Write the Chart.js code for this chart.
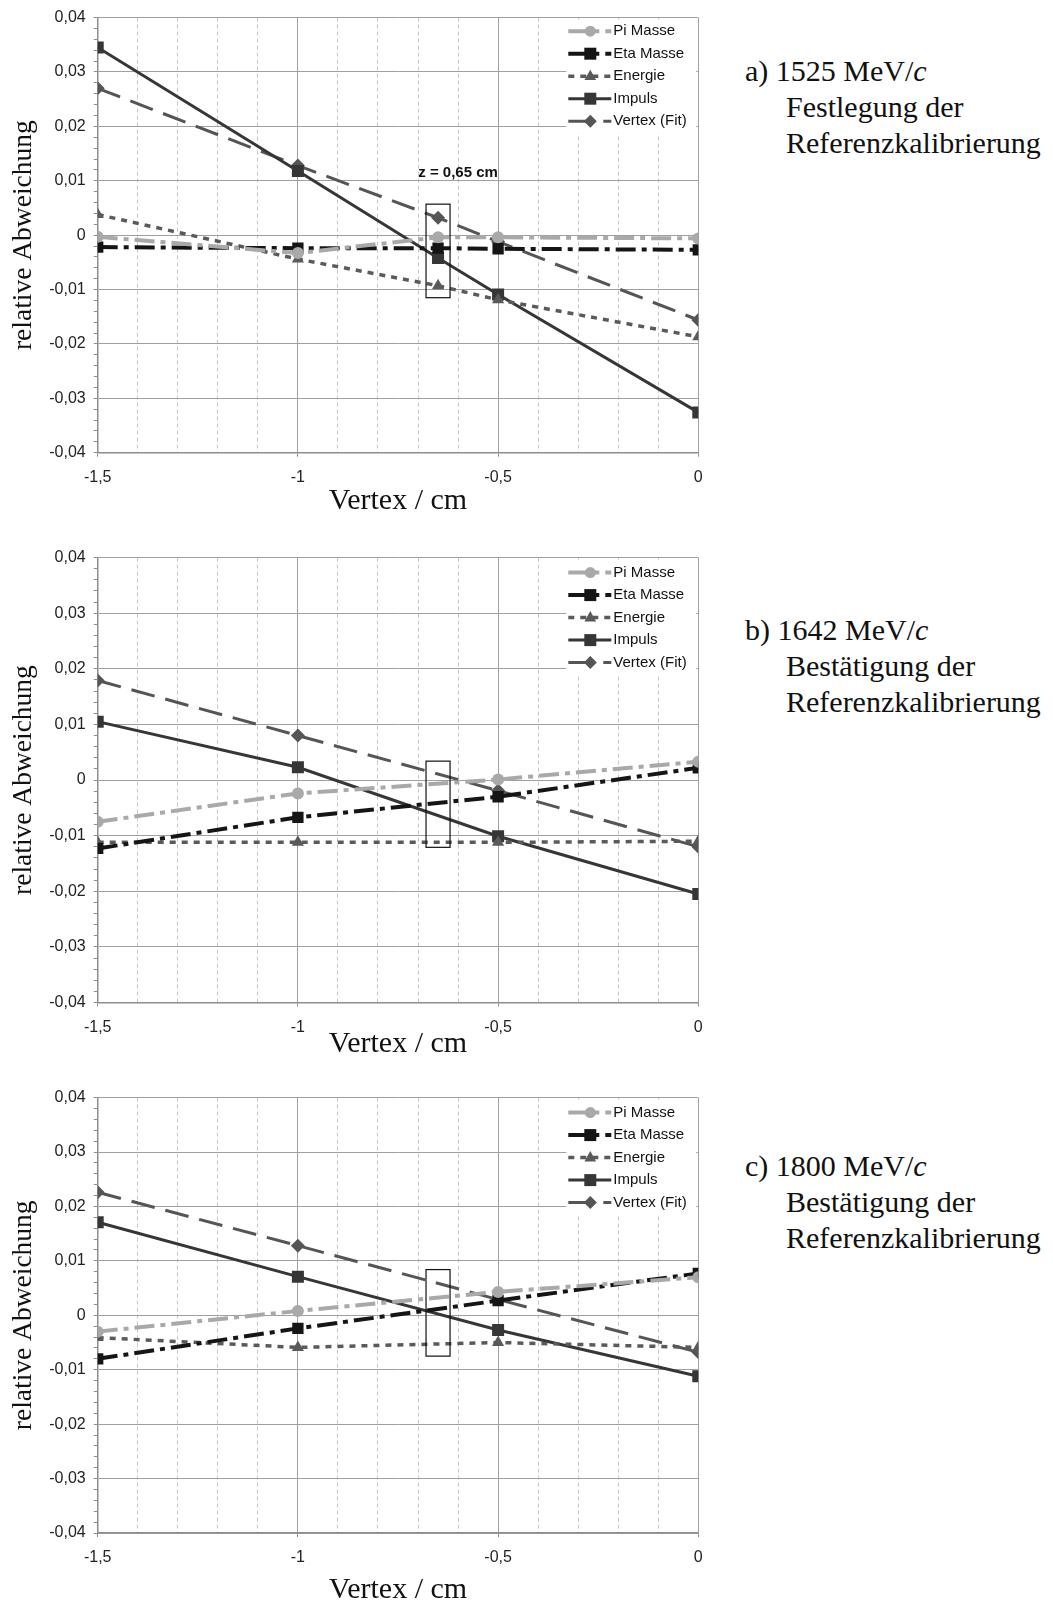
<!DOCTYPE html>
<html><head><meta charset="utf-8">
<script src="https://cdn.jsdelivr.net/npm/chart.js@4.4.1/dist/chart.umd.min.js"></script>
<style>
html,body{margin:0;padding:0;background:#fff;overflow:hidden;width:1053px;height:1602px}
canvas{position:absolute;left:0}
.cap{position:absolute;left:745px;font-family:"Liberation Serif",serif;font-size:30px;line-height:36px;color:#111;white-space:nowrap}
.cap .ind{padding-left:41px}
</style></head><body>
<canvas id="ca" width="720" height="520" style="top:0px"></canvas>
<canvas id="cb" width="720" height="520" style="top:540px"></canvas>
<canvas id="cc" width="720" height="522" style="top:1080px"></canvas>
<div class="cap" style="top:53px">a) 1525 MeV/<i>c</i><div class="ind">Festlegung der</div><div class="ind">Referenzkalibrierung</div></div>
<div class="cap" style="top:612px">b) 1642 MeV/<i>c</i><div class="ind">Bestätigung der</div><div class="ind">Referenzkalibrierung</div></div>
<div class="cap" style="top:1148px">c) 1800 MeV/<i>c</i><div class="ind">Bestätigung der</div><div class="ind">Referenzkalibrierung</div></div>
<script>
// ---- data ----
const SERIES = ['Pi Masse', 'Eta Masse', 'Energie', 'Impuls', 'Vertex (Fit)'];
const X_A = [-1.5, -1, -0.65, -0.5, 0];
const X_BC = [-1.5, -1, -0.5, 0];

const A_PI  = [-0.0003, -0.0033, -0.0004, -0.0004, -0.0006];
const A_ETA = [-0.0022, -0.0024, -0.0024, -0.0025, -0.0027];
const A_EN  = [0.0038, -0.0044, -0.0093, -0.0119, -0.0187];
const A_IMP = [0.0345, 0.0118, -0.0042, -0.0109, -0.0326];
const A_VTX = [0.0270, 0.0128, 0.0032, -0.0012, -0.0156];

const B_PI  = [-0.0075, -0.0024, 0.0001, 0.0033];
const B_ETA = [-0.0123, -0.0067, -0.0030, 0.0022];
const B_EN  = [-0.0112, -0.0112, -0.0112, -0.0110];
const B_IMP = [0.0105, 0.0023, -0.0101, -0.0205];
const B_VTX = [0.0179, 0.0080, -0.0019, -0.0120];

const C_PI  = [-0.0030, 0.0008, 0.0043, 0.0070];
const C_ETA = [-0.0080, -0.0024, 0.0027, 0.0077];
const C_EN  = [-0.0041, -0.0059, -0.0050, -0.0059];
const C_IMP = [0.0171, 0.0071, -0.0027, -0.0112];
const C_VTX = [0.0226, 0.0128, 0.0029, -0.0068];

const X_TICK_LABELS = ['-1,5', '-1', '-0,5', '0'];
const Y_TICK_LABELS = ['0,04', '0,03', '0,02', '0,01', '0', '-0,01', '-0,02', '-0,03', '-0,04'];
const BOX_A = [-0.68, -0.62, 0.0057, -0.0115];
const BOX_B = [-0.68, -0.62, 0.0034, -0.0121];
const BOX_C = [-0.68, -0.62, 0.0084, -0.0075];
const NOTE_A = {text: 'z = 0,65 cm', x: -0.6, y: 0.0114};

// ---- styles ----
const STYLE = [
  {color: '#a9a9a9', width: 4, dash: [20, 6, 5, 6], point: 'circle', r: 6, lr: 5.5},
  {color: '#151515', width: 4, dash: [20, 6, 5, 6], point: 'rect', r: 8, lr: 6},
  {color: '#5a5a5a', width: 3.5, dash: [6, 6], point: 'triangle', r: 7, lr: 6.5},
  {color: '#363636', width: 3, dash: [], point: 'rect', r: 8.5, lr: 6},
  {color: '#555555', width: 3, dash: [24, 11], point: 'rectRot', r: 7, lr: 6.5}
];

const near = (a, b) => Math.abs(a - b) < 1e-6;
function majorY(v) { return Math.abs(v * 100 - Math.round(v * 100)) < 1e-6; }
function majorX(v) { return Math.abs(v * 2 - Math.round(v * 2)) < 1e-6; }
function fmtY(v) {
  for (const s of Y_TICK_LABELS) { if (near(parseFloat(s.replace(',', '.')), v)) return s; }
  return '';
}
function fmtX(v) {
  for (const s of X_TICK_LABELS) { if (near(parseFloat(s.replace(',', '.')), v)) return s; }
  return '';
}

function drawMarker(ctx, style, r, x, y) {
  ctx.beginPath();
  if (style === 'circle') { ctx.arc(x, y, r, 0, Math.PI * 2); }
  else if (style === 'rect') { ctx.rect(x - r, y - r, 2 * r, 2 * r); }
  else if (style === 'triangle') { ctx.moveTo(x, y - r); ctx.lineTo(x + r * 0.9, y + r * 0.6); ctx.lineTo(x - r * 0.9, y + r * 0.6); ctx.closePath(); }
  else if (style === 'rectRot') { ctx.moveTo(x, y - r); ctx.lineTo(x + r, y); ctx.lineTo(x, y + r); ctx.lineTo(x - r, y); ctx.closePath(); }
  ctx.fill();
}

const boxLegend = {
  id: 'boxLegend',
  afterDraw(chart, args, opts) {
    const ctx = chart.ctx, a = chart.chartArea;
    const left = a.right - 132;
    ctx.save();
    ctx.fillStyle = '#fff';
    ctx.fillRect(left, a.top + 2, 130, opts.offset + 4 * 22.5 + 10);
    chart.data.datasets.forEach((ds, i) => {
      const y = a.top + opts.offset + i * 22.5;
      const st = STYLE[i];
      ctx.setLineDash(st.dash);
      ctx.lineWidth = st.width;
      ctx.strokeStyle = st.color;
      ctx.beginPath(); ctx.moveTo(left + 2, y); ctx.lineTo(left + 45, y); ctx.stroke();
      ctx.setLineDash([]);
      ctx.fillStyle = st.color;
      drawMarker(ctx, st.point, st.lr, left + 24, y);
      ctx.fillStyle = '#111';
      ctx.font = '15px "Liberation Sans", Arial, sans-serif';
      ctx.textBaseline = 'middle';
      ctx.textAlign = 'left';
      ctx.fillText(ds.label, left + 47, y);
    });
    ctx.restore();
  }
};

const marks = {
  id: 'marks',
  afterDatasetsDraw(chart, args, opts) {
    const ctx = chart.ctx, xs = chart.scales.x, ys = chart.scales.y;
    ctx.save();
    if (opts.box) {
      const b = opts.box;
      const x0 = xs.getPixelForValue(b[0]), x1 = xs.getPixelForValue(b[1]);
      const y0 = ys.getPixelForValue(b[2]), y1 = ys.getPixelForValue(b[3]);
      ctx.strokeStyle = '#111'; ctx.lineWidth = 1.2;
      ctx.strokeRect(x0, y0, x1 - x0, y1 - y0);
    }
    if (opts.note) {
      ctx.fillStyle = '#111';
      ctx.font = 'bold 15px "Liberation Sans", Arial, sans-serif';
      ctx.textAlign = 'center'; ctx.textBaseline = 'middle';
      ctx.fillText(opts.note.text, xs.getPixelForValue(opts.note.x), ys.getPixelForValue(opts.note.y));
    }
    ctx.restore();
  }
};

function makeChart(id, g, xs, series, box, note, legendOffset) {
  const datasets = series.map((vals, i) => {
    const st = STYLE[i];
    return {
      label: SERIES[i],
      data: xs.map((x, j) => ({x: x, y: vals[j]})),
      borderColor: st.color,
      backgroundColor: st.color,
      borderWidth: st.width,
      borderDash: st.dash,
      pointStyle: st.point,
      pointRadius: st.r,
      pointBackgroundColor: st.color,
      pointBorderColor: st.color,
      pointBorderWidth: 0,
      tension: 0,
      fill: false
    };
  });
  const H = g.height;
  const plotTopRel = g.plotTop - g.canvasTop;
  const plotBottomRel = g.plotBottom - g.canvasTop;
  const titleCenterRel = g.titleCenter - g.canvasTop;
  const pb = H - titleCenterRel - 15;
  return new Chart(document.getElementById(id), {
    type: 'line',
    data: {datasets: datasets},
    plugins: [marks, boxLegend],
    options: {
      responsive: false, animation: false, devicePixelRatio: 1,
      layout: {padding: {left: 0, top: plotTopRel, right: 720 - 698.3, bottom: 0}},
      plugins: {
        legend: {display: false}, tooltip: {enabled: false},
        marks: {box: box, note: note},
        boxLegend: {offset: legendOffset}
      },
      scales: {
        x: {
          type: 'linear', min: -1.5, max: 0,
          afterFit: s => { s.height = H - plotBottomRel; },
          ticks: {stepSize: 0.1, autoSkip: false, maxRotation: 0, minRotation: 0, padding: 11,
            color: '#222', font: {family: '"Liberation Sans", Arial, sans-serif', size: 16},
            callback: v => majorX(v) ? fmtX(v) : ''},
          grid: {
            color: c => (c.tick && !majorX(c.tick.value)) ? '#c6c6c6' : '#a0a0a0',
            lineWidth: 1, tickLength: 4,
            tickColor: c => (c.tick && !majorX(c.tick.value)) ? 'rgba(0,0,0,0)' : '#909090'
          },
          border: {color: '#8e8e8e', width: 1.5, dash: c => (c.tick && !majorX(c.tick.value)) ? [4, 3] : []},
          title: {display: true, text: 'Vertex / cm', color: '#111',
            font: {family: '"Liberation Serif", serif', size: 30, lineHeight: 1},
            padding: {top: 0, bottom: pb}}
        },
        y: {
          min: -0.04, max: 0.04,
          afterFit: s => { s.width = 97.7; },
          ticks: {stepSize: 0.002, autoSkip: false, padding: 8, color: '#222',
            font: {family: '"Liberation Sans", Arial, sans-serif', size: 16},
            callback: v => majorY(v) ? fmtY(v) : ''},
          grid: {
            color: c => (c.tick && !majorY(c.tick.value)) ? 'rgba(0,0,0,0)' : '#a0a0a0',
            lineWidth: 1, tickLength: 4, tickColor: '#909090'
          },
          border: {color: '#8e8e8e', width: 1.5},
          title: {display: true, text: 'relative Abweichung', color: '#111',
            font: {family: '"Liberation Serif", serif', size: 27.5, lineHeight: 1},
            padding: {top: 10, bottom: 0}}
        }
      }
    }
  });
}

makeChart('ca', {canvasTop: 0, height: 520, plotTop: 14, plotBottom: 452.7, titleCenter: 501},
  X_A, [A_PI, A_ETA, A_EN, A_IMP, A_VTX], BOX_A, NOTE_A, 13.6);
makeChart('cb', {canvasTop: 540, height: 520, plotTop: 557.3, plotBottom: 1002.5, titleCenter: 1044},
  X_BC, [B_PI, B_ETA, B_EN, B_IMP, B_VTX], BOX_B, null, 15);
makeChart('cc', {canvasTop: 1080, height: 522, plotTop: 1094, plotBottom: 1533, titleCenter: 1590},
  X_BC, [C_PI, C_ETA, C_EN, C_IMP, C_VTX], BOX_C, null, 15);
</script>
</body></html>
